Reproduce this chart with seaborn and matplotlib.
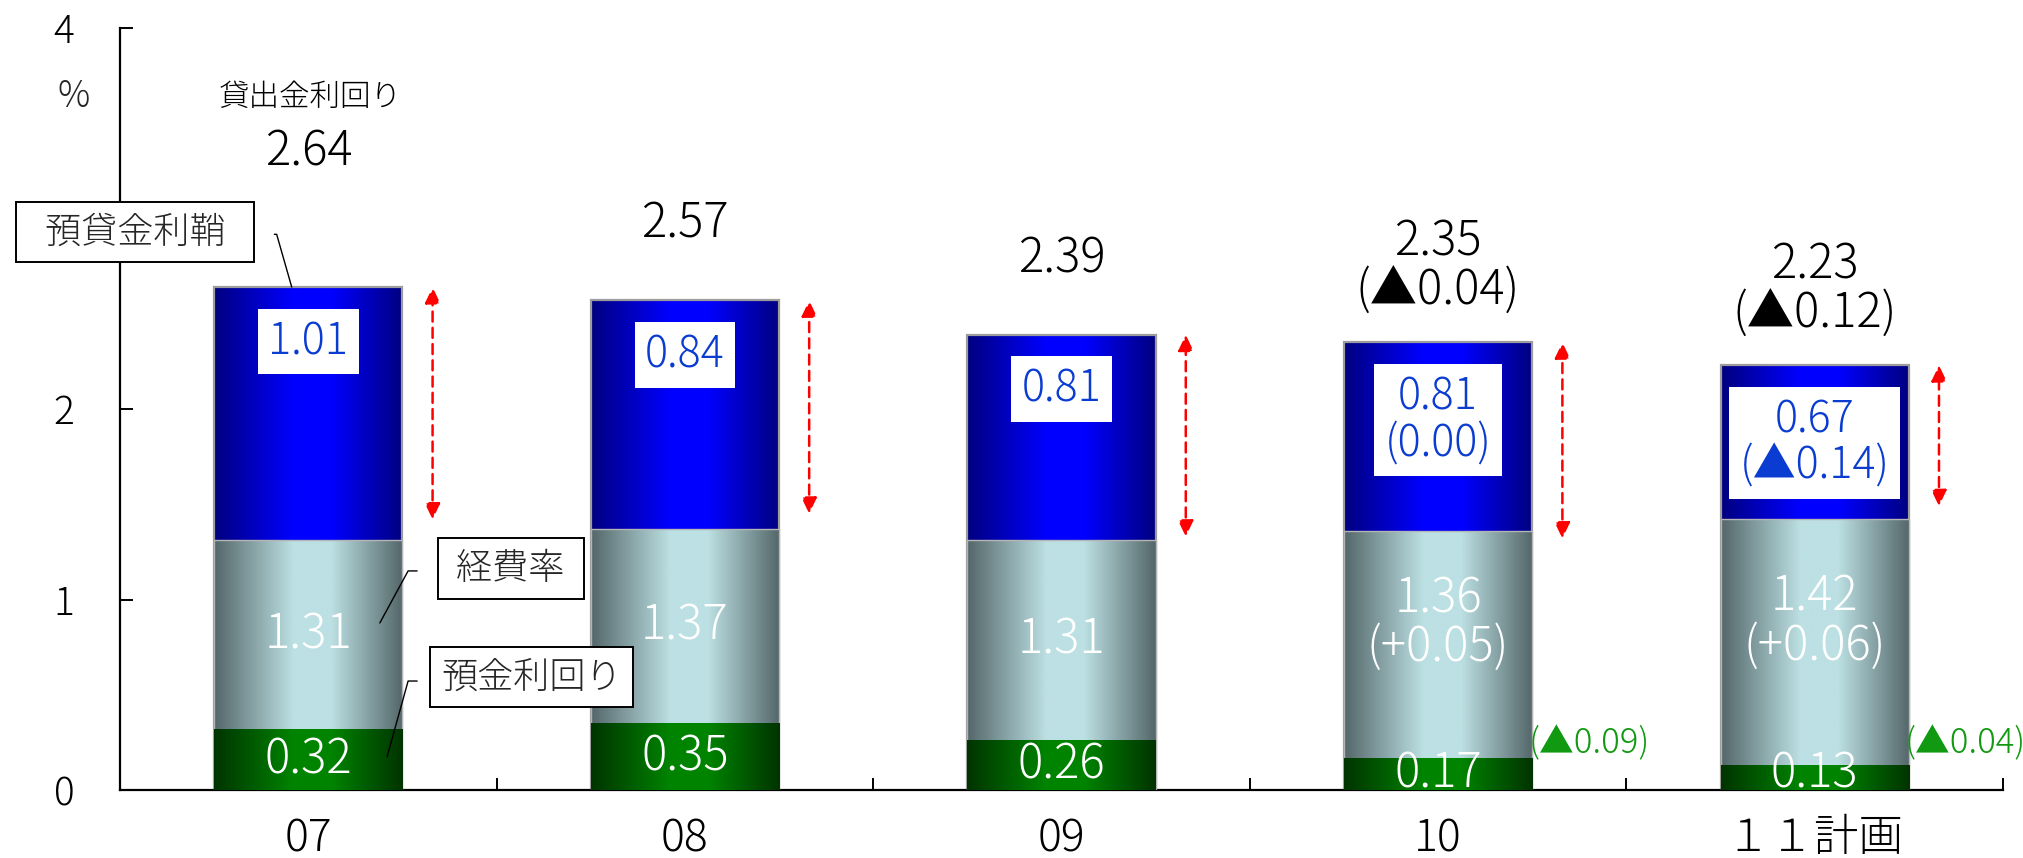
import numpy as np
import pandas as pd
import matplotlib
matplotlib.use("Agg")
import matplotlib.pyplot as plt
import seaborn as sns
from matplotlib.colors import LinearSegmentedColormap
from matplotlib.ticker import FixedLocator

# ---- data -------------------------------------------------------------
years = ["07", "08", "09", "10", "１１計画"]
loan_yield = [2.64, 2.57, 2.39, 2.35, 2.23]          # 貸出金利回り
loan_yield_chg = [None, None, None, -0.04, -0.12]
spread = [1.01, 0.84, 0.81, 0.81, 0.67]              # 預貸金利鞘
spread_chg = [None, None, None, 0.00, -0.14]
expense_ratio = [1.31, 1.37, 1.31, 1.36, 1.42]       # 経費率
expense_chg = [None, None, None, 0.05, 0.06]
deposit_yield = [0.32, 0.35, 0.26, 0.17, 0.13]       # 預金利回り
deposit_chg = [None, None, None, -0.09, -0.04]
spread_arrow_base = [1.42, 1.45, 1.33, 1.32, 1.49]   # lower end of the spread arrows
y_ticks = [0, 1, 2, 3, 4]
y_tick_labels = ["0", "1", "2", "", "4"]             # the 3 sits behind the callout box


def fmt_chg(v):
    if v is None:
        return None
    if abs(v) < 1e-9:
        return "(0.00)"
    if v < 0:
        return f"(▲{abs(v):.2f})"
    return f"(+{v:.2f})"


sns.set_theme(style="ticks")
plt.rcParams["font.family"] = ["Noto Sans CJK JP", "DejaVu Sans"]
plt.rcParams["font.weight"] = "light"

DPI = 100
PX = 72 / DPI  # points per pixel

fig = plt.figure(figsize=(20.24, 8.58), dpi=DPI)
ax = fig.add_axes([120 / 2024, 68 / 858, 1883 / 2024, 762 / 858])

df = pd.DataFrame({"year": years, "loan": loan_yield,
                   "expense": expense_ratio, "deposit": deposit_yield})

# three overlapping bar layers, each shaded with a horizontal cylinder gradient
layers = [
    ("loan", "#000080", "#0000ff", "#9c9c9c", 1.6),
    ("expense", "#54676a", "#bce0e3", "#b5b5b5", 1.0),
    ("deposit", "#003400", "#008400", "none", 0.0),
]
grad = np.linspace(0, 1, 256)[None, :]
for k, (col, dark, light, edge, lw) in enumerate(layers):
    n_before = len(ax.patches)
    sns.barplot(data=df, x="year", y=col, order=years, width=0.5, color=light,
                saturation=1, errorbar=None, ax=ax, zorder=2 + k)
    cmap = LinearSegmentedColormap.from_list(
        col, [(0, dark), (0.42, light), (0.62, light), (1, dark)])
    for p in ax.patches[n_before:]:
        x0, y0, w, h = p.get_x(), p.get_y(), p.get_width(), p.get_height()
        im = ax.imshow(grad, cmap=cmap, extent=[x0, x0 + w, y0, y0 + h],
                       aspect="auto", interpolation="bilinear", zorder=2 + k)
        im.set_clip_path(p)
        p.set_facecolor("none")
        p.set_edgecolor(edge)
        p.set_linewidth(lw)
        p.set_zorder(2 + k + 0.1)

ax.set_xlim(-0.5, 4.5)
ax.set_ylim(0, 4)
ax.set_xlabel("")
ax.set_ylabel("")

# ---- axes ------------------------------------------------------------
for s in ["top", "right"]:
    ax.spines[s].set_visible(False)
for s in ["left", "bottom"]:
    ax.spines[s].set_linewidth(1.6)
    ax.spines[s].set_color("black")

ax.set_yticks(y_ticks)
ax.set_yticklabels(y_tick_labels)
ax.tick_params(axis="y", direction="in", length=9.5, width=1.4, pad=33,
               labelsize=28, left=True, colors="black")
ax.set_xticks(range(len(years)))
ax.set_xticklabels(years)
ax.tick_params(axis="x", which="major", length=0, pad=19, labelsize=32,
               bottom=True, colors="black")
ax.xaxis.set_minor_locator(FixedLocator(np.arange(0.5, len(years), 1)))
ax.tick_params(axis="x", which="minor", direction="in", length=9, width=1.4,
               bottom=True, color="black")

fig.text(74 / 2024, 1 - 97 / 858, "%", ha="center", va="center", fontsize=26)

num_fs = 34
blue_txt = "#0a3cd2"

for i in range(len(years)):
    # total (loan yield) above the bar
    lines = [f"{loan_yield[i]:.2f}"]
    if fmt_chg(loan_yield_chg[i]):
        lines.append(fmt_chg(loan_yield_chg[i]))
    lift = 135 if i == 0 else 76
    ax.annotate("\n".join(lines), xy=(i, loan_yield[i]), xytext=(0, lift * PX),
                textcoords="offset points", ha="center", va="center",
                fontsize=num_fs, linespacing=1.0, color="black", zorder=8)

    # spread inside the navy segment, on a white card
    lines = [f"{spread[i]:.2f}"]
    if fmt_chg(spread_chg[i]):
        lines.append(fmt_chg(spread_chg[i]))
    ax.annotate("\n".join(lines), xy=(i, loan_yield[i]), xytext=(0, -32 * PX),
                textcoords="offset points", ha="center", va="top",
                fontsize=31, linespacing=1.05, color=blue_txt, zorder=8,
                bbox=dict(boxstyle="square,pad=0.24", fc="white", ec="none"))

    # expense ratio in the grey segment
    lines = [f"{expense_ratio[i]:.2f}"]
    if fmt_chg(expense_chg[i]):
        lines.append(fmt_chg(expense_chg[i]))
    yc = (deposit_yield[i] + expense_ratio[i]) / 2 + 0.11 * (len(lines) - 1)
    ax.text(i, yc, "\n".join(lines), ha="center", va="center",
            fontsize=num_fs, linespacing=1.0, color="white", zorder=8)

    # deposit yield in the green segment
    ax.text(i, max(deposit_yield[i] / 2, 0.085), f"{deposit_yield[i]:.2f}",
            ha="center", va="center", fontsize=num_fs, color="white", zorder=8)
    if fmt_chg(deposit_chg[i]):
        ax.annotate(fmt_chg(deposit_chg[i]), xy=(i + 0.24, 0), xytext=(0, 47 * PX),
                    textcoords="offset points", ha="left", va="center",
                    fontsize=25, color="#119911", zorder=8)

    # red dashed double arrow beside each bar
    ax.annotate("", xy=(i + 0.33, loan_yield[i]), xytext=(i + 0.33, spread_arrow_base[i]),
                arrowprops=dict(arrowstyle="<|-|>,head_length=0.8,head_width=0.38",
                                color="red", lw=1.8, linestyle=(0, (4, 2.5)),
                                shrinkA=0, shrinkB=0), zorder=7)

# header over the first total
ax.annotate("貸出金利回り", xy=(0, loan_yield[0]), xytext=(2 * PX, 190 * PX),
            textcoords="offset points", ha="center", va="center", fontsize=22,
            color="black", zorder=8)

# callout boxes with leader lines
box_style = dict(boxstyle="square,pad=0.3", fc="white", ec="black", lw=1.4)
ax.text(-0.46, 2.927, "\u2002預貸金利鞘\u2002", ha="center", va="center", fontsize=26,
        bbox=box_style, zorder=20, clip_on=False)
ax.plot([-0.09, -0.084, -0.044], [2.917, 2.917, loan_yield[0]], color="black",
        lw=1.0, zorder=9, clip_on=False)

ax.text(0.537, 1.163, " 経費率 ", ha="center", va="center", fontsize=26,
        bbox=box_style, zorder=20)
ax.plot([0.289, 0.265, 0.19], [1.15, 1.15, 0.877], color="black", lw=1.0, zorder=9)

ax.text(0.593, 0.591, "預金利回り", ha="center", va="center", fontsize=26,
        bbox=box_style, zorder=20)
ax.plot([0.289, 0.265, 0.209], [0.572, 0.572, 0.173], color="black", lw=1.0, zorder=9)

fig.savefig("out.png", dpi=DPI)
